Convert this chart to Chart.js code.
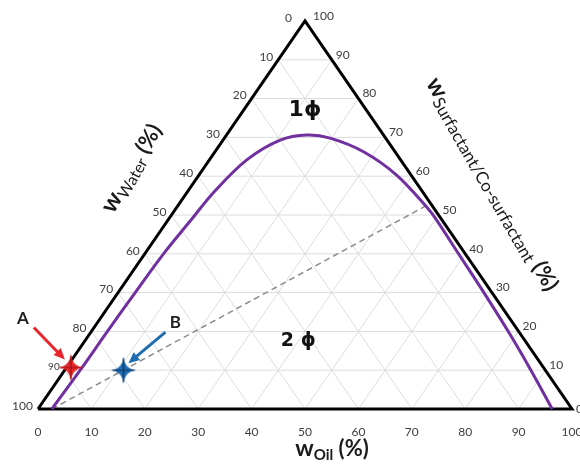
<!DOCTYPE html>
<html>
<head>
<meta charset="utf-8">
<script src="https://cdn.jsdelivr.net/npm/chart.js@4"></script>
<style>
body { margin: 0; background: #fff; }
#wrap { width: 580px; height: 464px; }
</style>
</head>
<body>
<div id="wrap"><canvas id="ternary"></canvas></div>
<script>
'use strict';

// tick values (%) on each edge of the triangle
const tickValues = [0, 10, 20, 30, 40, 50, 60, 70, 80, 90, 100];
const gridValues = [10, 20, 30, 40, 50, 60, 70, 80, 90];

// phase boundary: oil % and surfactant % (water is the rest)
const boundaryOil  = [2.6, 2.9, 3.0, 3.2, 3.5, 4.3, 5.0, 7.0, 10.7, 15.1, 19.8, 27.8, 37.0, 46.7, 50.3, 56.8, 68.5, 79.0, 87.3, 96.3];
const boundarySurf = [0, 10, 20, 30, 40, 48.7, 56.0, 64.2, 69.3, 70.6, 69.8, 66.3, 60.3, 52.1, 48.7, 42.0, 30.0, 19.0, 10.0, 0];

// dilution line
const dilutionOil  = [2.6, 47];
const dilutionSurf = [0, 53];

// the two samples
const sampleNames = ['A', 'B'];
const sampleOil   = [0.8, 11.0];
const sampleSurf  = [10.7, 10.0];

// ternary (oil, surfactant) -> plot coordinates
const toXY = (oil, surf) => ({ x: oil + surf / 2, y: surf });

const line = (pts, color, width, order, extra) => Object.assign({
    type: 'scatter',
    data: pts,
    showLine: true,
    pointRadius: 0,
    borderColor: color,
    borderWidth: width,
    fill: false,
    clip: false,
    order: order
}, extra || {});

const datasets = [];

gridValues.forEach(k => {
    // constant surfactant
    datasets.push(line([toXY(0, k), toXY(100 - k, k)], '#dcdcdc', 1, 10));
    // constant oil
    datasets.push(line([toXY(k, 0), toXY(k, 100 - k)], '#dcdcdc', 1, 10));
    // constant water
    datasets.push(line([toXY(100 - k, 0), toXY(0, 100 - k)], '#dcdcdc', 1, 10));
});

datasets.push(line(dilutionOil.map((o, i) => toXY(o, dilutionSurf[i])), '#8c8c8c', 1.5, 6, { borderDash: [6, 4] }));
datasets.push(line([toXY(0, 0), toXY(100, 0), toXY(0, 100), toXY(0, 0)], '#000', 3, 5));
datasets.push(line(boundaryOil.map((o, i) => toXY(o, boundarySurf[i])), '#7030a0', 3, 4, { tension: 0.35 }));

const makeStar = (fill, dark) => {
    const c = document.createElement('canvas');
    c.width = 28; c.height = 30;
    const g = c.getContext('2d');
    const cx = 14, cy = 15, rx = 13, ry = 14, k = 2.6;
    g.beginPath();
    g.moveTo(cx, cy - ry);
    g.quadraticCurveTo(cx + k * 0.4, cy - k * 0.4, cx + rx, cy);
    g.quadraticCurveTo(cx + k * 0.4, cy + k * 0.4, cx, cy + ry);
    g.quadraticCurveTo(cx - k * 0.4, cy + k * 0.4, cx - rx, cy);
    g.quadraticCurveTo(cx - k * 0.4, cy - k * 0.4, cx, cy - ry);
    g.closePath();
    g.fillStyle = fill;
    g.fill();
    g.strokeStyle = dark;
    g.lineWidth = 1.2;
    g.beginPath();
    g.moveTo(cx, cy - ry + 2); g.lineTo(cx, cy + ry - 2);
    g.moveTo(cx - rx + 2, cy); g.lineTo(cx + rx - 2, cy);
    g.stroke();
    return c;
};

const sampleColors = ['#e8262b', '#1f6db2'];
const sampleDark = ['#9a0f12', '#0b2f5a'];

sampleNames.forEach((n, i) => {
    datasets.push({
        type: 'scatter',
        data: [toXY(sampleOil[i], sampleSurf[i])],
        pointStyle: makeStar(sampleColors[i], sampleDark[i]),
        clip: false,
        order: 1
    });
});

const tickColor = '#404040';
const tickFont = '12px Lato';

const drawParts = (ctx, cx, cy, angle, parts) => {
    ctx.save();
    ctx.translate(cx, cy);
    ctx.rotate(angle * Math.PI / 180);
    ctx.textBaseline = 'alphabetic';
    ctx.textAlign = 'left';
    let total = 0;
    parts.forEach(p => { ctx.font = p.font; total += ctx.measureText(p.text).width; });
    let x = -total / 2;
    parts.forEach(p => {
        ctx.font = p.font;
        ctx.fillStyle = p.color || '#1a1a1a';
        ctx.fillText(p.text, x, p.dy || 0);
        x += ctx.measureText(p.text).width;
    });
    ctx.restore();
};

const arrow = (ctx, x1, y1, x2, y2, color) => {
    const a = Math.atan2(y2 - y1, x2 - x1);
    ctx.strokeStyle = color;
    ctx.fillStyle = color;
    ctx.lineWidth = 3;
    ctx.beginPath();
    ctx.moveTo(x1, y1);
    ctx.lineTo(x2 - 7 * Math.cos(a), y2 - 7 * Math.sin(a));
    ctx.stroke();
    ctx.beginPath();
    ctx.moveTo(x2, y2);
    ctx.lineTo(x2 - 11 * Math.cos(a) + 5 * Math.sin(a), y2 - 11 * Math.sin(a) - 5 * Math.cos(a));
    ctx.lineTo(x2 - 11 * Math.cos(a) - 5 * Math.sin(a), y2 - 11 * Math.sin(a) + 5 * Math.cos(a));
    ctx.closePath();
    ctx.fill();
};

const ternaryText = {
    id: 'ternaryText',
    afterDraw(chart) {
        const ctx = chart.ctx;
        const xs = chart.scales.x, ys = chart.scales.y;
        const px = p => ({ x: xs.getPixelForValue(p.x), y: ys.getPixelForValue(p.y) });

        ctx.save();
        ctx.fillStyle = tickColor;
        ctx.textBaseline = 'middle';

        // oil, bottom edge
        ctx.textAlign = 'center';
        ctx.font = tickFont;
        tickValues.forEach(v => {
            const p = px(toXY(v, 0));
            ctx.fillText(String(v), p.x, p.y + 23);
        });

        // water, left edge
        ctx.textAlign = 'right';
        tickValues.forEach(v => {
            const p = px(toXY(0, 100 - v));
            ctx.font = v === 90 ? '10px Lato' : tickFont;
            const dx = v === 0 ? -13 : -5;
            ctx.fillText(String(v), p.x + dx, p.y - 3);
        });

        // surfactant, right edge
        ctx.textAlign = 'left';
        ctx.font = tickFont;
        tickValues.forEach(v => {
            const p = px(toXY(100 - v, v));
            const dx = v === 100 ? 8 : 4;
            const dy = v === 0 ? 0 : -5;
            ctx.fillText(String(v), p.x + dx, p.y + dy);
        });
        ctx.restore();

        // axis titles
        drawParts(ctx, 332, 456, 0, [
            { text: 'w', font: 'bold 23px Lato' },
            { text: 'Oil', font: 'bold 15px Lato', dy: 4 },
            { text: ' (%)', font: 'bold 22px Lato' }
        ]);
        drawParts(ctx, 138, 172, -60, [
            { text: 'w', font: 'bold 24px Lato' },
            { text: 'Water', font: '16px Lato', dy: 4 },
            { text: ' (%)', font: 'bold 22px Lato' }
        ]);
        drawParts(ctx, 486, 188, 60, [
            { text: 'w', font: 'bold 24px Lato' },
            { text: 'Surfactant/Co-surfactant', font: '17px Lato', dy: 4 },
            { text: ' (%)', font: 'bold 22px Lato' }
        ]);

        // phase labels
        ctx.save();
        ctx.fillStyle = '#111';
        ctx.textAlign = 'center';
        ctx.textBaseline = 'middle';
        ctx.font = 'bold 22px "DejaVu Sans"';
        let p = px(toXY(11.5, 77));
        ctx.fillText('1\u03d5', p.x, p.y);
        ctx.font = 'bold 19px "DejaVu Sans"';
        p = px(toXY(40, 17.5));
        ctx.fillText('2 \u03d5', p.x, p.y);
        ctx.restore();

        // sample arrows and names
        const a = px(toXY(sampleOil[0], sampleSurf[0]));
        const b = px(toXY(sampleOil[1], sampleSurf[1]));
        ctx.save();
        arrow(ctx, a.x - 37, a.y - 40, a.x - 6, a.y - 8, sampleColors[0]);
        arrow(ctx, b.x + 42, b.y - 38, b.x + 5, b.y - 7, sampleColors[1]);
        ctx.fillStyle = '#222';
        ctx.font = 'bold 17px Lato';
        ctx.textAlign = 'center';
        ctx.textBaseline = 'middle';
        ctx.fillText(sampleNames[0], a.x - 48, a.y - 49);
        ctx.fillText(sampleNames[1], b.x + 52, b.y - 48);
        ctx.restore();
    }
};

new Chart('ternary', {
    type: 'scatter',
    data: { datasets: datasets },
    options: {
        responsive: true,
        maintainAspectRatio: false,
        animation: false,
        events: [],
        layout: { padding: { left: 38, right: 8, top: 21, bottom: 55 } },
        scales: {
            x: { type: 'linear', min: 0, max: 100, display: false },
            y: { type: 'linear', min: 0, max: 100, display: false }
        },
        plugins: {
            legend: { display: false },
            tooltip: { enabled: false }
        }
    },
    plugins: [ternaryText]
});
</script>
</body>
</html>
